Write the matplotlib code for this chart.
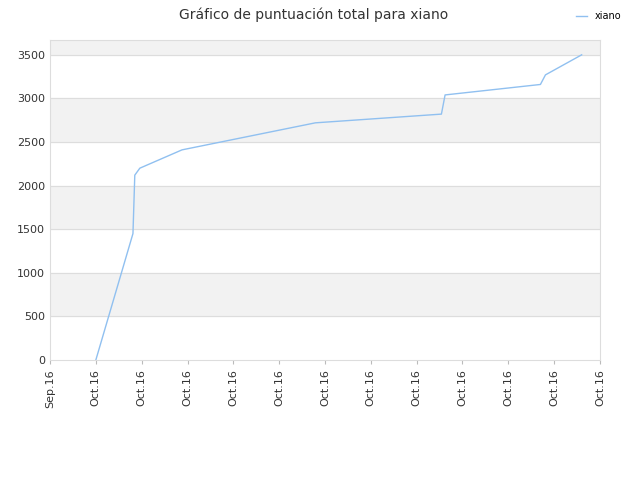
import matplotlib
matplotlib.use("Agg")
import matplotlib.pyplot as plt

# x in tick units (one unit per date tick), y = score
xs = [1.0, 1.81, 1.85, 1.96, 2.88, 5.79, 8.54, 8.62, 10.70, 10.81, 11.60]
ys = [0, 1450, 2120, 2200, 2410, 2720, 2820, 3040, 3160, 3270, 3500]
tick_labels = ["Sep.16"] + ["Oct.16"] * 12

fig = plt.figure(figsize=(6.4, 4.8), dpi=100)
ax = fig.add_axes([50/640, 120/480, 550/640, 320/480])
ymax = 3670
for lo in range(500, 4000, 1000):
    ax.axhspan(lo, min(lo + 500, ymax), color="#f2f2f2", zorder=0)
for y in range(500, 3600, 500):
    ax.axhline(y, color="#dddddd", lw=0.8, zorder=1)
ax.plot(xs, ys, color="#90c0f0", lw=1, label="xiano", zorder=2)
ax.set_xlim(0, 12)
ax.set_ylim(0, ymax)
ax.set_xticks(range(13))
ax.set_xticklabels(tick_labels, rotation=90, fontsize=8, color="#333333")
ax.set_yticks(range(0, 3600, 500))
ax.tick_params(axis="y", labelsize=8, colors="#333333", length=0)
ax.tick_params(axis="x", length=3, colors="#bbbbbb", labelcolor="#333333")
for s in ax.spines.values():
    s.set_color("#dddddd")
fig.suptitle("Gráfico de puntuación total para xiano", x=0.49, y=0.985, fontsize=10, color="#333333")
fig.legend(loc="upper right", bbox_to_anchor=(0.985, 0.995), frameon=False, fontsize=7, handlelength=1.2)
fig.savefig("out.png")
